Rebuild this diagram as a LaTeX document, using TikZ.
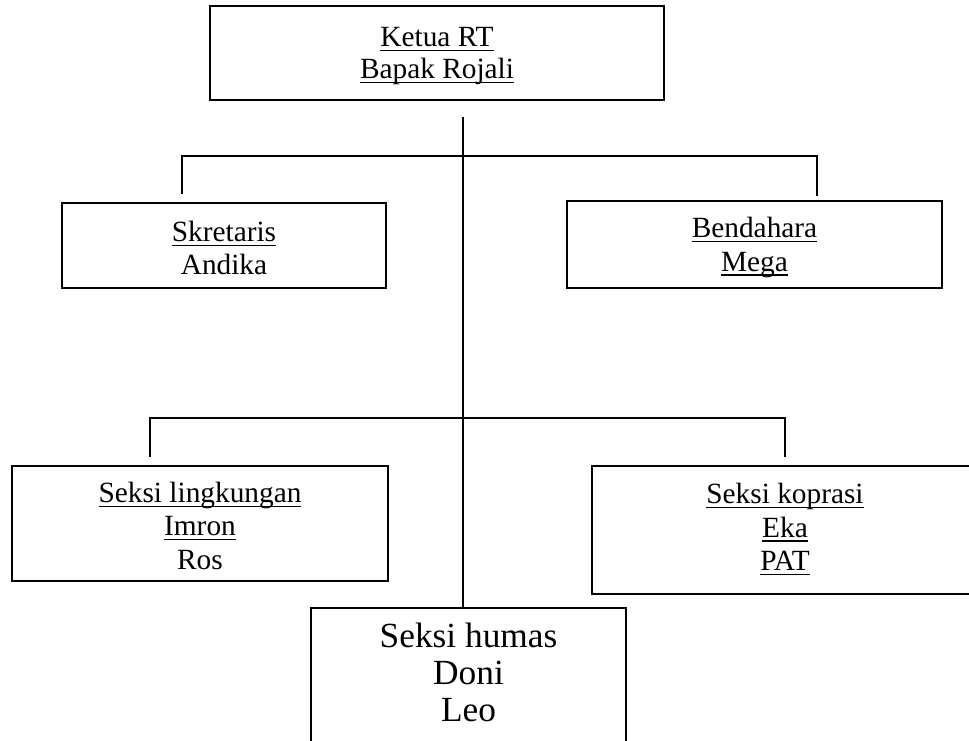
\documentclass[tikz,border=0pt]{standalone}
\usepackage{fontspec}
\setmainfont{Liberation Serif}
\newcommand\myul[1]{\setbox0\hbox{#1}\rlap{\rule[-3.3pt]{\wd0}{1pt}}\box0}
\newcommand\boxtext[2]{\raisebox{#1}[\height][\depth]{\begin{tabular}{@{}c@{}}#2\end{tabular}}}
\begin{document}
\begin{tikzpicture}[x=0.75pt,y=-0.75pt,
  box/.style={draw, line width=1.1pt, inner sep=0pt,
    font=\fontsize{22}{25.1}\selectfont},
  topbox/.style={box, font=\fontsize{22}{24}\selectfont},
  bigbox/.style={box, font=\fontsize{26.5}{27.8}\selectfont},
  link/.style={line width=1.1pt},
  mainlink/.style={line width=1.4pt}]
\useasboundingbox (0,0) rectangle (969,740);

\node[topbox, minimum width={454*0.75pt}, minimum height={94*0.75pt}] (ketua) at (437,53)
  {\boxtext{-2.3pt}{\myul{Ketua RT}\\\myul{Bapak Rojali}}};
\node[box, minimum width={324*0.75pt}, minimum height={85*0.75pt}] (skret) at (224,245.5)
  {\boxtext{-4.5pt}{\myul{Skretaris}\\Andika}};
\node[box, minimum width={375*0.75pt}, minimum height={87*0.75pt}] (bend) at (754.5,244.5)
  {\boxtext{-2.4pt}{\myul{Bendahara}\\\myul{Mega}}};
\node[box, minimum width={376*0.75pt}, minimum height={115*0.75pt}] (ling) at (200,523.5)
  {\boxtext{-4.3pt}{\myul{Seksi lingkungan}\\\myul{Imron}\\Ros}};
\node[box, minimum width={386*0.75pt}, minimum height={128*0.75pt}] (kop) at (785,530)
  {\boxtext{-0.4pt}{\myul{Seksi koprasi}\\\myul{Eka}\\\myul{PAT}}};
\node[bigbox, minimum width={315*0.75pt}, minimum height={137*0.75pt}] (humas) at (468.5,676.5)
  {\boxtext{-0.75pt}{Seksi humas\\Doni\\Leo}};

% main trunk
\coordinate (trunk) at (463,117);
\draw[mainlink] (trunk) -- (trunk |- humas.north);

% upper branch
\coordinate (ua) at (182,194);
\coordinate (ub) at (817,196);
\draw[link] (ua) -- (ua |- 0,156) -- (ub |- 0,156) -- (ub);

% lower branch
\coordinate (la) at (150,457);
\coordinate (lb) at (785,457);
\draw[link] (la) -- (la |- 0,418) -- (lb |- 0,418) -- (lb);
\end{tikzpicture}
\end{document}
